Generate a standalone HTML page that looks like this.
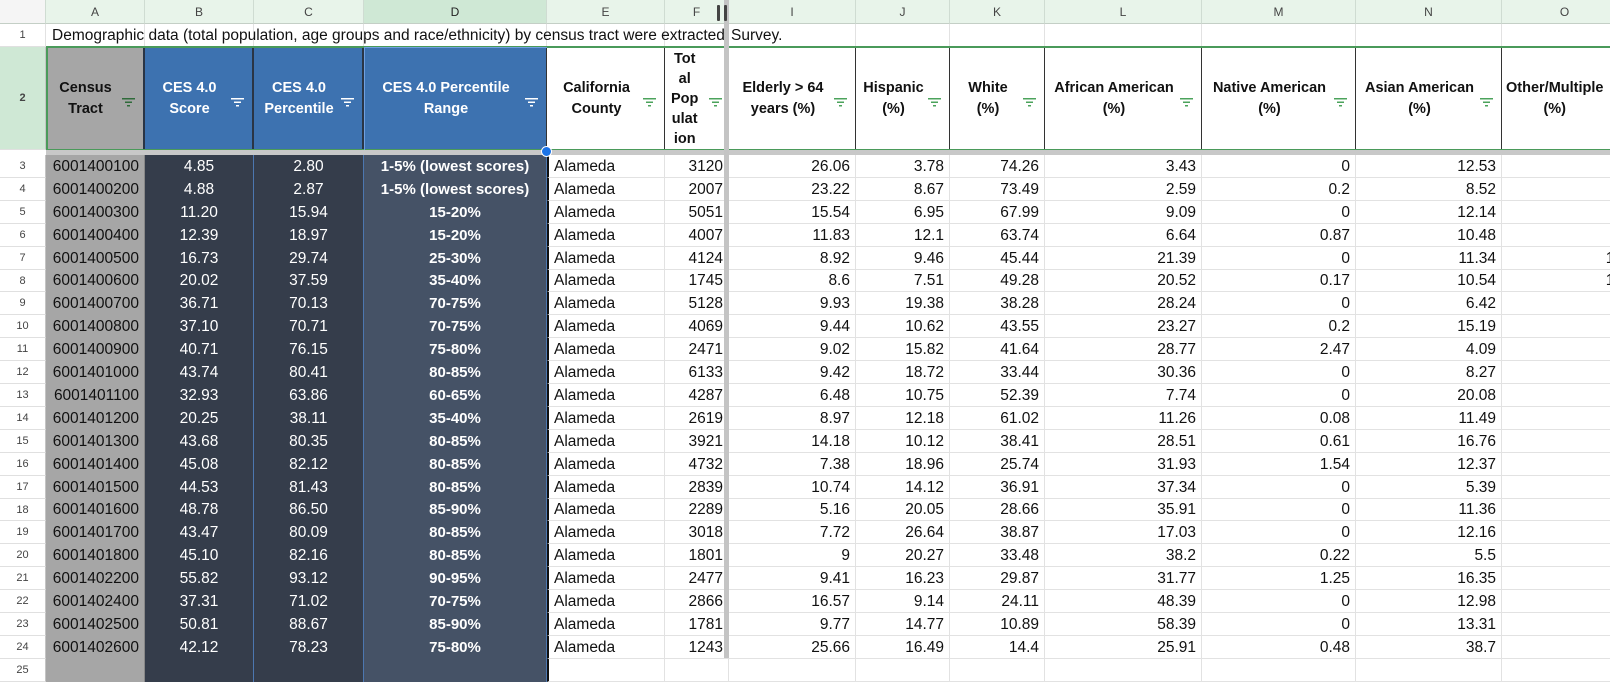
<!DOCTYPE html>
<html><head><meta charset="utf-8">
<style>
*{box-sizing:border-box;margin:0;padding:0}
body{width:1610px;height:658px;overflow:hidden;background:#fff;font-family:"Liberation Sans",Arial,sans-serif;position:relative}
.c{position:absolute;overflow:hidden;white-space:nowrap;font-size:15.5px;color:#111;line-height:22px}
.ch{position:absolute;top:0;height:24px;background:#e8f4ea;border-right:1px solid #cfdcd2;border-bottom:1px solid #c4cfc6;text-align:center;font-size:12px;color:#444;line-height:24px}
.rh{position:absolute;left:0;width:46px;background:#fff;border-right:1px solid #c4c4c4;border-bottom:1px solid #e0e0e0;text-align:center;font-size:11px;color:#444}
.hd{position:absolute;top:47px;height:103px;font-weight:bold;font-size:14.5px;display:flex;align-items:center;justify-content:center;text-align:center;line-height:21px;overflow:hidden}
.flt{position:absolute;right:8px;top:46px;width:13px;height:9px}
</style></head><body>
<div id="grid"></div>
<script>
const colNames=['A','B','C','D','E','F','I','J','K','L','M','N','O'];
const colX=[46,145,254,364,547,665,729,856,950,1045,1202,1356,1502,1628];
const headers=['Census<br>Tract','CES 4.0<br>Score','CES 4.0<br>Percentile','CES 4.0 Percentile<br>Range','California<br>County','Tot<br>al<br>Pop<br>ulat<br>ion','Elderly &gt; 64<br>years (%)','Hispanic<br>(%)','White<br>(%)','African American<br>(%)','Native American<br>(%)','Asian American<br>(%)','Other/Multiple<br>(%)'];
const tracts=['6001400100','6001400200','6001400300','6001400400','6001400500','6001400600','6001400700','6001400800','6001400900','6001401000','6001401100','6001401200','6001401300','6001401400','6001401500','6001401600','6001401700','6001401800','6001402200','6001402400','6001402500','6001402600'];
const scores=['4.85','4.88','11.20','12.39','16.73','20.02','36.71','37.10','40.71','43.74','32.93','20.25','43.68','45.08','44.53','48.78','43.47','45.10','55.82','37.31','50.81','42.12'];
const pct=['2.80','2.87','15.94','18.97','29.74','37.59','70.13','70.71','76.15','80.41','63.86','38.11','80.35','82.12','81.43','86.50','80.09','82.16','93.12','71.02','88.67','78.23'];
const ranges=['1-5% (lowest scores)','1-5% (lowest scores)','15-20%','15-20%','25-30%','35-40%','70-75%','70-75%','75-80%','80-85%','60-65%','35-40%','80-85%','80-85%','80-85%','85-90%','80-85%','80-85%','90-95%','70-75%','85-90%','75-80%'];
const pop=['3120','2007','5051','4007','4124','1745','5128','4069','2471','6133','4287','2619','3921','4732','2839','2289','3018','1801','2477','2866','1781','1243'];
const elderly=['26.06','23.22','15.54','11.83','8.92','8.6','9.93','9.44','9.02','9.42','6.48','8.97','14.18','7.38','10.74','5.16','7.72','9','9.41','16.57','9.77','25.66'];
const hisp=['3.78','8.67','6.95','12.1','9.46','7.51','19.38','10.62','15.82','18.72','10.75','12.18','10.12','18.96','14.12','20.05','26.64','20.27','16.23','9.14','14.77','16.49'];
const white=['74.26','73.49','67.99','63.74','45.44','49.28','38.28','43.55','41.64','33.44','52.39','61.02','38.41','25.74','36.91','28.66','38.87','33.48','29.87','24.11','10.89','14.4'];
const afam=['3.43','2.59','9.09','6.64','21.39','20.52','28.24','23.27','28.77','30.36','7.74','11.26','28.51','31.93','37.34','35.91','17.03','38.2','31.77','48.39','58.39','25.91'];
const natam=['0','0.2','0','0.87','0','0.17','0','0.2','2.47','0','0','0.08','0.61','1.54','0','0','0','0.22','1.25','0','0','0.48'];
const asian=['12.53','8.52','12.14','10.48','11.34','10.54','6.42','15.19','4.09','8.27','20.08','11.49','16.76','12.37','5.39','11.36','12.16','5.5','16.35','12.98','13.31','38.7'];
const other=['','','','','10','10','','','','','','','','','','','','','','','','','',''];
const g=document.getElementById('grid');
function mk(cls,x,y,w,h,html,style){const d=document.createElement('div');d.className=cls;d.style.left=x+'px';d.style.top=y+'px';d.style.width=w+'px';d.style.height=h+'px';if(style)d.style.cssText+=style;d.innerHTML=html;g.appendChild(d);return d;}
const RT=155, RH=22.9;
function rowY(r){return Math.round(RT+r*RH);}
let cn=mk('ch',0,0,46,24,'','background:#f5f5f5');


for(let i=0;i<colNames.length;i++){
 const el=mk('ch',colX[i],0,colX[i+1]-colX[i],24,colNames[i],i===3?'background:#cfe8d5;color:#222':'');
 
 
}
const rowTop=[24,47];const rowH=[23,103];
for(let r=0;r<23;r++){rowTop.push(rowY(r));rowH.push(rowY(r+1)-rowY(r));}
for(let r=0;r<rowTop.length;r++){
 const el=mk('rh',0,rowTop[r],46,rowH[r],String(r+1),'line-height:'+rowH[r]+'px'+(r===1?';background:#cfe8d5;font-weight:bold':''));
 
 
}
for(let i=0;i<colX.length;i++){mk('c',colX[i]-1,24,1,23,'','background:#e2e2e2');}
mk('c',46,46,1564,1,'','background:#e2e2e2');
const t1=mk('c',52,24,672,23,'Demographic data (total population, age groups and race/ethnicity) by census tract were extracted fr','line-height:23px;font-size:15.5px');


const t2=mk('c',731,24,200,23,'Survey.','line-height:23px;font-size:15.5px');


const hdBg=['#a6a6a6','#3d72b0','#3d72b0','#3d72b0','#fff','#fff','#fff','#fff','#fff','#fff','#fff','#fff','#fff'];
const hdFg=['#111','#fff','#fff','#fff','#111','#111','#111','#111','#111','#111','#111','#111','#111'];
const fltCol=['#2f6b3a','#fff','#fff','#fff','#4ca35c','#4ca35c','#4ca35c','#4ca35c','#4ca35c','#4ca35c','#4ca35c','#4ca35c','#4ca35c'];
for(let i=0;i<colNames.length;i++){
 const w=colX[i+1]-colX[i];
 let extra='';
 if(i===5)extra=';line-height:20px;justify-content:flex-start;padding-left:6px';
 if(i===12)extra=';justify-content:flex-start;padding-left:4px';
 const el=mk('hd',colX[i],47,w,103,'<span style="padding-right:'+(i===12||i===5?0:18)+'px">'+headers[i]+'</span>','background:'+hdBg[i]+';color:'+hdFg[i]+';border-right:'+(i<3?'2px solid #2a3545':'1.5px solid #333')+extra);
 
 
 if(i<12){
  const f=document.createElement('div');f.className='flt';
  f.innerHTML='<svg width="13" height="9"><rect x="0" y="0" width="13" height="1.5" fill="'+fltCol[i]+'"/><rect x="3" y="3.5" width="7" height="1.5" fill="'+fltCol[i]+'"/><rect x="5" y="7" width="3" height="1.5" fill="'+fltCol[i]+'"/></svg>';
  
  
  if(i===5)f.style.right='6px';
  el.appendChild(f);
 }
}
mk('c',46,46,1564,1.5,'','background:#4a9a5a');
mk('c',46,149,1564,1.5,'','background:#4a9a5a');
mk('c',46,150,1564,5,'','background:#c8c8c8');
mk('c',46,47,2,103,'','background:#4a9a5a');
const cols=[tracts,scores,pct,ranges,null,pop,elderly,hisp,white,afam,natam,asian,other];
const cellBg=['#a6a6a6','#353d4b','#353d4b','#455266','#fff','#fff','#fff','#fff','#fff','#fff','#fff','#fff','#fff'];
const align=['right','center','center','center','left','right','right','right','right','right','right','right','right'];
for(let r=0;r<23;r++){
 const y=rowY(r), h=rowY(r+1)-rowY(r);
 for(let i=0;i<colNames.length;i++){
  const w=colX[i+1]-colX[i];
  let txt='';
  if(r<22){txt=i===4?'Alameda':cols[i][r];}
  let st='background:'+cellBg[i]+';text-align:'+align[i]+';padding:0 5px;line-height:'+h+'px;';
  if(i>=1&&i<=3){st+='color:#fff;border-right:1px solid #4c77b0;';}
  else if(i===0){st+='border-right:1px solid #888;';}
  else{st+='border-right:1px solid #e2e2e2;border-bottom:1px solid #e2e2e2;';}
  if(i===3)st+='font-weight:bold;font-size:15px;';
  if(i===4)st+='border-left:2px solid #111;';
  if(i===12)st+='padding-right:4px;';
  const el=mk('c',colX[i],y,w,h,txt,st);
  
  
 }
}
const fz=mk('c',724,0,5,658,'','background:#c4c4c4');


const fh=mk('c',716,5,12,16,'<div style="position:absolute;left:1px;top:0;width:3px;height:16px;background:#444;border-radius:1px"></div><div style="position:absolute;left:8px;top:0;width:3px;height:16px;background:#444;border-radius:1px"></div>','');


const dot=mk('c',541,146,11,11,'','background:#1a73e8;border-radius:50%;border:1.5px solid #fff');


mk('c',364,47,1,103,'','background:#6fa0e0');
mk('c',364,47,183,1,'','background:#6fa0e0');
</script>
</body></html>
